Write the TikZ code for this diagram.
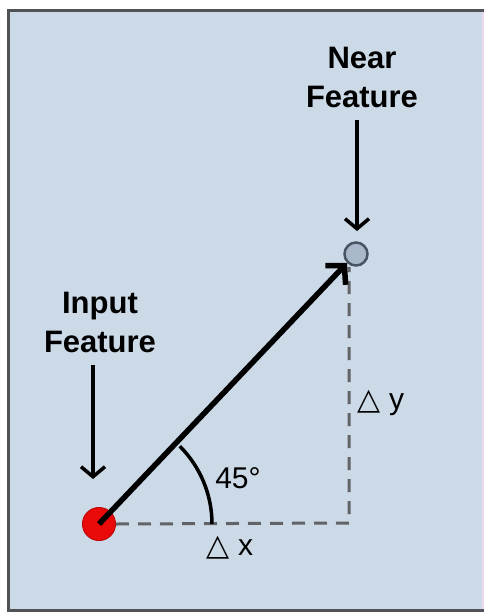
\documentclass[tikz,border=0pt]{standalone}
\usepackage{fontspec}
\setmainfont{Liberation Sans}
\newfontfamily\symfont{DejaVu Sans}
\usetikzlibrary{arrows.meta}
\definecolor{panelbg}{RGB}{204,217,231}
\definecolor{framegray}{RGB}{80,82,86}
\definecolor{dotred}{RGB}{235,10,10}
\definecolor{dotgray}{RGB}{170,185,202}
\definecolor{dotrim}{RGB}{70,84,100}
\newcommand{\tri}{{\symfont △}}

\begin{document}
\begin{tikzpicture}[
    x=1pt, y=-1pt,
    caption/.style={font=\fontsize{31}{39}\selectfont\bfseries, align=center, inner sep=0pt},
    measure/.style={font=\fontsize{30}{36}\selectfont, inner sep=0pt},
    pointer/.style={-{Straight Barb[length=10pt, width=24pt, line width=3.5pt]}, line width=3.5pt},
    vector/.style={-{Straight Barb[length=13pt, width=28pt, line width=5.5pt]}, line width=5.5pt},
    guide/.style={draw=framegray!90, line width=3pt, dash pattern=on 13pt off 9pt}
]
\useasboundingbox (0,0) rectangle (488,614);
\fill[white] (0,0) rectangle (488,614);
\fill[panelbg] (8,10) rectangle (484,610);
\draw[white!85!violet, line width=2pt] (483,11) -- (483,609);
\draw[framegray, line width=3pt] (484,10) -- (8,10) -- (8,610) -- (484,610);

\node[caption] (inlabel) at (100,322) {Input\\Feature};
\node[caption] (nearlabel) at (362,77) {Near\\Feature};
\node[circle, fill=dotred, draw=dotred!80!black, line width=1pt,
      minimum size=33pt, inner sep=0pt] (inpt) at (99,524) {};
\node[circle, fill=dotgray, draw=dotrim, line width=2.5pt,
      minimum size=23pt, inner sep=0pt] (nearpt) at (356,254) {};
\coordinate (corner) at (349,523);
\coordinate (intip) at (93,479);
\coordinate (neartip) at (357,231);

\draw[guide] (inpt.east) -- (corner) -- (corner |- nearpt.south);
\draw[pointer] (intip |- inlabel.south) ++(0,12) -- (intip);
\draw[pointer] (neartip |- nearlabel.south) ++(0,12) -- (neartip);
\draw[line width=3.5pt] (inpt.center) ++(113pt,0) arc[start angle=0, end angle=45, radius=110pt];
\draw[vector] (inpt.center) -- (nearpt.south west);

\node[measure] (angle) at (238,478) {45°};
\node[measure] (dx) at (230,548) {\tri\ x};
\node[measure] (dy) at (381,403) {\tri\ y};
\end{tikzpicture}
\end{document}
